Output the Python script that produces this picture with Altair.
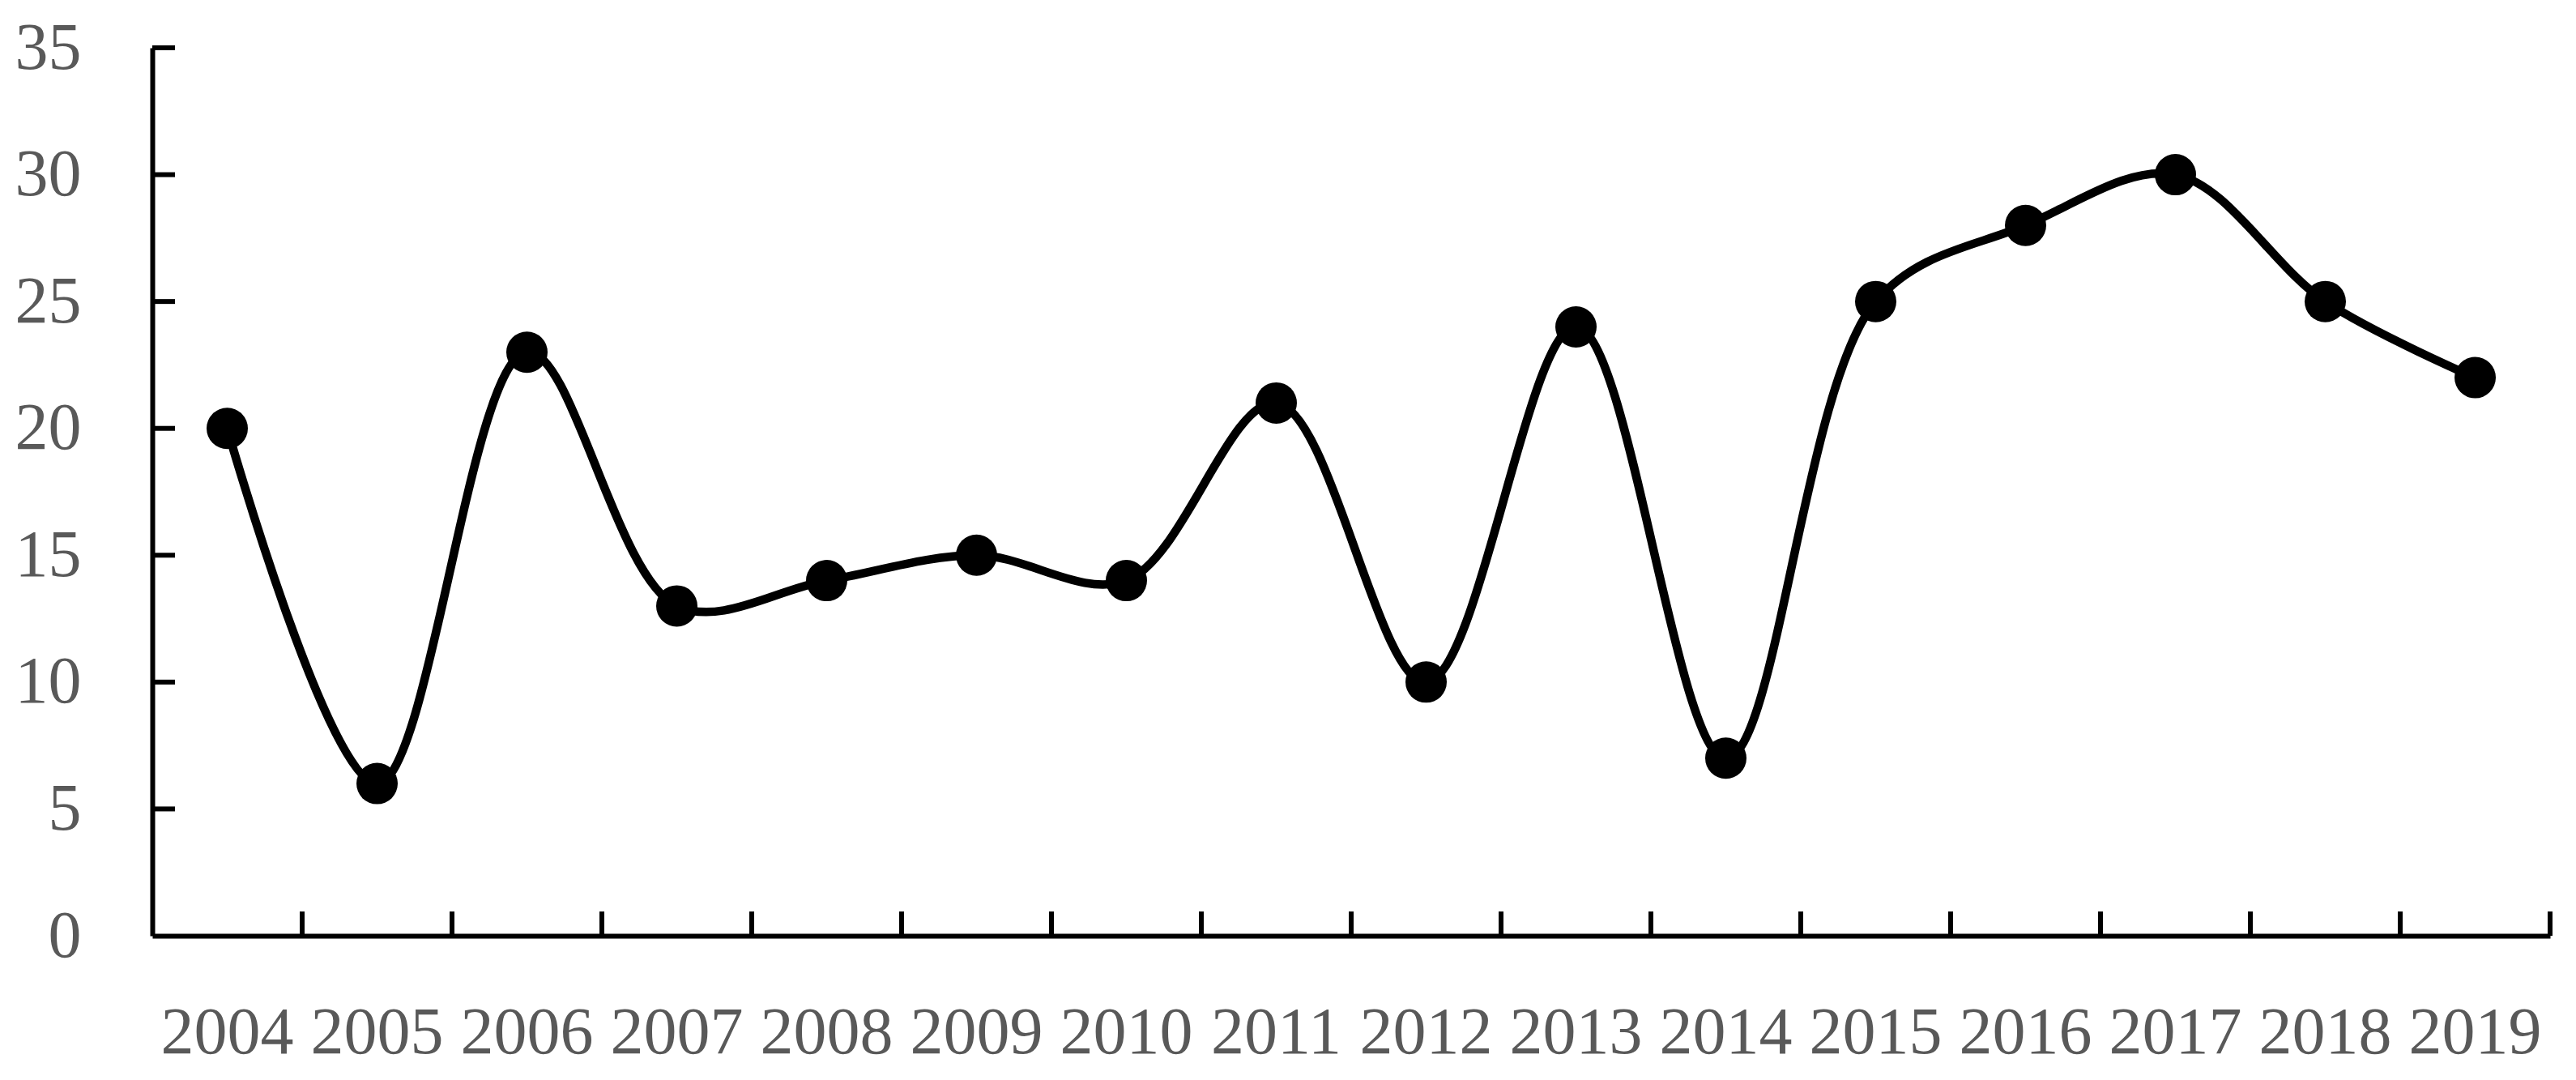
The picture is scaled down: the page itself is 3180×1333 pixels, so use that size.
import altair as alt
import pandas as pd

years = [str(y) for y in range(2004, 2020)]
values = [20, 6, 23, 13, 14, 15, 14, 21, 10, 24, 7, 25, 28, 30, 25, 22]
y_ticks = [5, 10, 15, 20, 25, 30, 35]

df = pd.DataFrame({"year": years, "value": values})
df_yt = pd.DataFrame({"v": y_ticks})
df_xt = pd.DataFrame({"year": years[1:]})
df_xend = pd.DataFrame({"year": [years[-1]]})

W, H = 2960, 1096
FONT = "Liberation Serif"
GRAY = "#595959"

xscale = alt.Scale(type="band", domain=years, paddingInner=0, paddingOuter=0)
yscale = alt.Scale(domain=[0, 35], nice=False, zero=True)

xaxis = alt.Axis(title=None, labelFont=FONT, labelFontSize=82, labelColor=GRAY,
                 labelPadding=119, ticks=False, grid=False, domainColor="black",
                 domainWidth=6, labelAngle=0, bandPosition=0.5, labelBaseline="middle")
yaxis = alt.Axis(title=None, labelFont=FONT, labelFontSize=82, labelColor=GRAY,
                 labelPadding=88, ticks=False, grid=False, domainColor="black",
                 domainWidth=6, values=[0, 5, 10, 15, 20, 25, 30, 35])

line = alt.Chart(df).mark_line(color="black", strokeWidth=10.5, interpolate="catmull-rom").encode(
    x=alt.X("year:O", scale=xscale, axis=xaxis, bandPosition=0.5),
    y=alt.Y("value:Q", scale=yscale, axis=yaxis),
)
pts = alt.Chart(df).mark_point(filled=True, color="black", opacity=1, size=2600, shape="circle").encode(
    x=alt.X("year:O", scale=xscale, bandPosition=0.5),
    y=alt.Y("value:Q", scale=yscale),
)
yt = alt.Chart(df_yt).mark_rule(color="black", strokeWidth=6).encode(
    y=alt.Y("v:Q", scale=yscale),
    x=alt.value(0), x2=alt.value(28),
)
xt = alt.Chart(df_xt).mark_rule(color="black", strokeWidth=6).encode(
    x=alt.X("year:O", scale=xscale, bandPosition=0),
    y=alt.value(H), y2=alt.value(H - 30),
)
xe = alt.Chart(df_xend).mark_rule(color="black", strokeWidth=6).encode(
    x=alt.X("year:O", scale=xscale, bandPosition=1),
    y=alt.value(H), y2=alt.value(H - 30),
)

chart = alt.layer(line, pts, yt, xt, xe).properties(
    width=W, height=H, background="white",
    padding={"left": 10, "top": 10, "right": 5, "bottom": 8}
).configure_view(strokeWidth=0)

chart.save("out.html", embed_options={"renderer": "svg", "actions": False})
